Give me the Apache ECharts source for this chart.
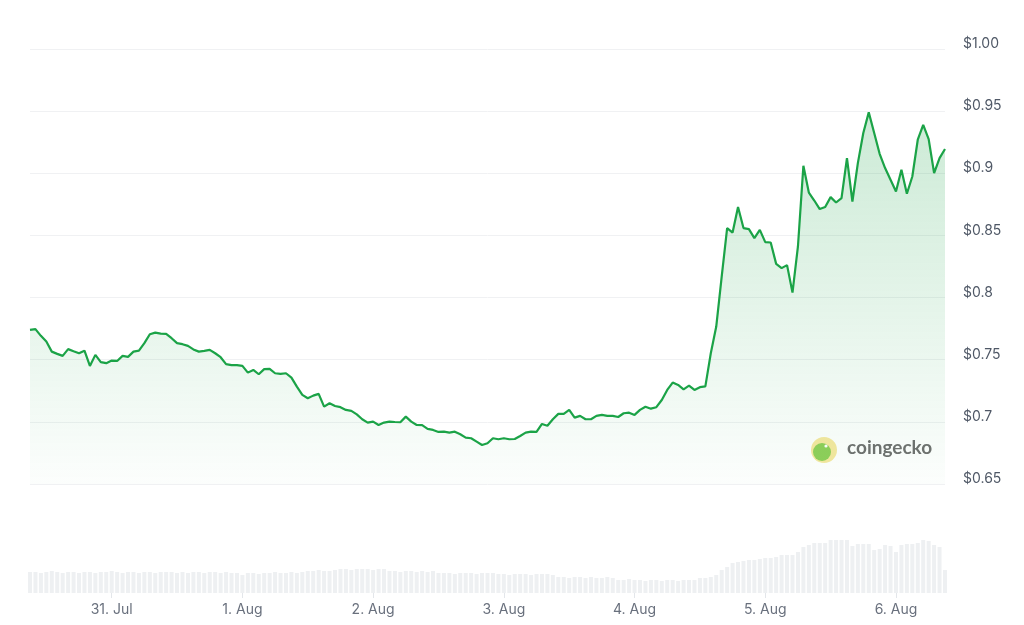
<!DOCTYPE html>
<html>
<head>
<meta charset="utf-8">
<title>Price chart</title>
<script src="https://cdn.jsdelivr.net/npm/echarts@6/dist/echarts.min.js"></script>
<style>
  html, body { margin: 0; padding: 0; background: #fff; }
  #chart { width: 1024px; height: 625px; }
</style>
</head>
<body>
<div id="chart"></div>
<script>
// hourly samples, 30 Jul 09:00 -> 6 Aug 09:00
const startDay = 30;
const startHour = 9;
const monthNames = { 30: "Jul", 31: "Jul", 1: "Aug", 2: "Aug", 3: "Aug", 4: "Aug", 5: "Aug", 6: "Aug" };

const priceLabels = ["$0.65", "$0.7", "$0.75", "$0.8", "$0.85", "$0.9", "$0.95", "$1.00"];

const prices = [
  0.7740, 0.7746, 0.7692, 0.7646, 0.7565, 0.7547, 0.7531, 0.7585, 0.7568, 0.7552,
  0.7573, 0.7450, 0.7539, 0.7480, 0.7472, 0.7493, 0.7490, 0.7531, 0.7523, 0.7565,
  0.7573, 0.7633, 0.7705, 0.7718, 0.7710, 0.7708, 0.7673, 0.7633, 0.7625, 0.7611,
  0.7583, 0.7565, 0.7571, 0.7579, 0.7552, 0.7520, 0.7464, 0.7456, 0.7456, 0.7450,
  0.7396, 0.7418, 0.7383, 0.7424, 0.7426, 0.7391, 0.7386, 0.7391, 0.7356, 0.7283,
  0.7217, 0.7190, 0.7211, 0.7225, 0.7122, 0.7150, 0.7128, 0.7118, 0.7096, 0.7088,
  0.7060, 0.7021, 0.6994, 0.7002, 0.6975, 0.6994, 0.7002, 0.6999, 0.6997, 0.7042,
  0.7002, 0.6975, 0.6973, 0.6943, 0.6935, 0.6919, 0.6921, 0.6913, 0.6921, 0.6900,
  0.6873, 0.6868, 0.6841, 0.6814, 0.6828, 0.6868, 0.6860, 0.6868, 0.6860, 0.6862,
  0.6886, 0.6913, 0.6921, 0.6919, 0.6983, 0.6969, 0.7021, 0.7064, 0.7064, 0.7096,
  0.7034, 0.7048, 0.7021, 0.7021, 0.7048, 0.7056, 0.7048, 0.7048, 0.7039, 0.7069,
  0.7074, 0.7056, 0.7096, 0.7122, 0.7106, 0.7118, 0.7176, 0.7257, 0.7316, 0.7297,
  0.7262, 0.7291, 0.7257, 0.7279, 0.7285, 0.7552, 0.7767, 0.8169, 0.8559, 0.8523,
  0.8728, 0.8559, 0.8551, 0.8478, 0.8545, 0.8446, 0.8443, 0.8271, 0.8237, 0.8261,
  0.8040, 0.8411, 0.9060, 0.8845, 0.8781, 0.8712, 0.8728, 0.8808, 0.8765, 0.8800,
  0.9122, 0.8773, 0.9082, 0.9324, 0.9490, 0.9324, 0.9157, 0.9042, 0.8948, 0.8853,
  0.9028, 0.8835, 0.8974, 0.9270, 0.9390, 0.9275, 0.9002, 0.9122, 0.9195
];

const volumes = [
  21, 21, 20, 21, 22, 21, 20, 21, 21, 20,
  21, 21, 20, 21, 21, 22, 21, 20, 21, 21,
  20, 21, 21, 20, 21, 21, 21, 20, 21, 20,
  21, 21, 20, 21, 21, 20, 21, 20, 20, 18,
  20, 20, 19, 20, 20, 21, 20, 20, 21, 20,
  21, 22, 22, 23, 22, 22, 23, 24, 24, 23,
  24, 24, 24, 23, 24, 24, 22, 22, 21, 22,
  22, 21, 22, 21, 22, 20, 20, 20, 19, 20,
  20, 20, 19, 20, 20, 20, 19, 19, 18, 19,
  19, 19, 18, 19, 19, 19, 18, 16, 16, 15,
  16, 16, 15, 16, 15, 15, 16, 15, 13, 13,
  14, 13, 13, 12, 13, 13, 12, 13, 13, 12,
  13, 13, 13, 15, 15, 16, 18, 23, 26, 30,
  31, 32, 33, 33, 34, 35, 35, 36, 38, 38,
  38, 41, 46, 48, 50, 50, 50, 53, 53, 53,
  53, 47, 49, 49, 49, 43, 44, 48, 47, 41,
  48, 49, 49, 50, 53, 52, 48, 46, 23
];

// category per hour, built from the start time
const hours = [];
for (let i = 0; i < prices.length; i++) {
  const h = startHour + i;
  let d = startDay + Math.floor(h / 24);
  if (d > 31) d -= 31;
  hours.push(d + "|" + (h % 24));
}
const isMidnight = (idx, val) => val.split("|")[1] === "0";
const dayLabel = (val) => {
  const d = +val.split("|")[0];
  return d + ". " + monthNames[d];
};

const chart = echarts.init(document.getElementById("chart"));

const option = {
  animation: false,
  textStyle: { fontFamily: "Inter, 'Noto Sans', sans-serif" },
  grid: [
    { left: 30, right: 79, top: 49, bottom: 141 },
    { left: 30, right: 79, top: 520, bottom: 32 },
  ],
  xAxis: [
    {
      type: "category",
      gridIndex: 0,
      data: hours,
      boundaryGap: false,
      show: false,
    },
    {
      type: "category",
      gridIndex: 1,
      data: hours,
      boundaryGap: false,
      axisLine: { show: false },
      axisTick: {
        show: true,
        interval: isMidnight,
        length: 5,
        lineStyle: { color: "#e3e6ea" },
      },
      axisLabel: {
        interval: isMidnight,
        formatter: dayLabel,
        color: "#69707d",
        fontSize: 14,
        margin: 10,
      },
      splitLine: { show: false },
    },
  ],
  yAxis: [
    {
      type: "value",
      gridIndex: 0,
      position: "right",
      min: 0.65,
      max: 1.0,
      interval: 0.05,
      axisLine: { show: false },
      axisTick: { show: false },
      axisLabel: {
        color: "#4f5866",
        fontSize: 14,
        margin: 18,
        verticalAlign: "bottom",
        lineHeight: 10,
        formatter: (v) => priceLabels[Math.round((v - 0.65) / 0.05)],
      },
      splitLine: { lineStyle: { color: "#f0f1f3", width: 1 } },
    },
    {
      type: "value",
      gridIndex: 1,
      min: 0,
      max: 73,
      show: false,
    },
  ],
  series: [
    {
      name: "Volume",
      type: "bar",
      xAxisIndex: 1,
      yAxisIndex: 1,
      data: volumes,
      barWidth: 4,
      itemStyle: { color: "#eef0f2" },
      silent: true,
    },
    {
      name: "Price",
      type: "line",
      xAxisIndex: 0,
      yAxisIndex: 0,
      data: prices,
      showSymbol: false,
      lineStyle: { color: "#1ba347", width: 2.2 },
      areaStyle: {
        color: new echarts.graphic.LinearGradient(0, 0, 0, 1, [
          { offset: 0, color: "rgba(27,163,71,0.32)" },
          { offset: 1, color: "rgba(27,163,71,0.02)" },
        ]),
      },
    },
  ],
  graphic: [
    {
      type: "circle",
      shape: { cx: 824, cy: 450, r: 13 },
      style: { fill: "#f6e8a0" },
      silent: true,
    },
    {
      type: "circle",
      shape: { cx: 822, cy: 452, r: 9 },
      style: { fill: "#8fcf5a" },
      silent: true,
    },
    {
      type: "circle",
      shape: { cx: 826, cy: 446, r: 1.6 },
      style: { fill: "#ffffff" },
      silent: true,
    },
    {
      type: "text",
      left: 847,
      top: 438,
      style: {
        text: "coingecko",
        fill: "#707070",
        font: "bold 19px Lato, 'Open Sans', sans-serif",
      },
      silent: true,
    },
  ],
};

chart.setOption(option);
</script>
</body>
</html>
